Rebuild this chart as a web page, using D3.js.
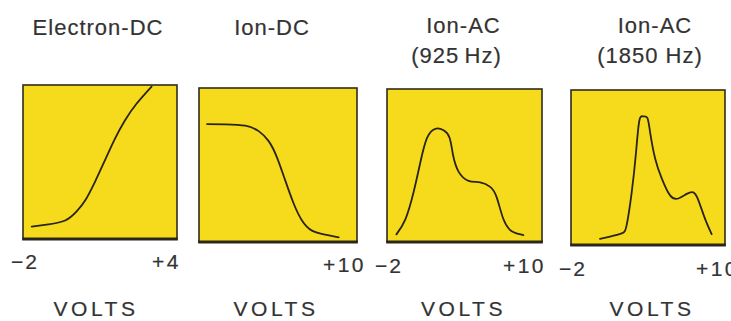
<!DOCTYPE html>
<html>
<head>
<meta charset="utf-8">
<script src="https://cdn.jsdelivr.net/npm/d3@7"></script>
<style>
  body { margin: 0; background: #ffffff; }
  svg text { font-family: "Liberation Sans", Arial, sans-serif; fill: #333333; stroke: #333333; stroke-width: 0.2; }
</style>
</head>
<body>
<div id="content"></div>
<script>
// Panel titles (one or two lines each)
var titles = [["Electron-DC"], ["Ion-DC"], ["Ion-AC", "(925\u2009Hz)"], ["Ion-AC", "(1850 Hz)"]];

// Voltage range of each sweep
var xDomains = [[-2, 4], [-2, 10], [-2, 10], [-2, 10]];

// Labels at the ends of each voltage axis
var tickLabels = [["\u22122", "+4"], [null, "+10"], ["\u22122", "+10"], ["\u22122", "+10"]];
var axisLabel = "VOLTS";

// Probe response curves: [volts, relative signal]
var electronDC = [[-1.66, 0.08], [-1.01, 0.095], [-0.36, 0.12], [0.09, 0.18], [0.42, 0.25],
    [0.80, 0.37], [1.19, 0.51], [1.58, 0.65], [1.97, 0.77], [2.43, 0.88], [3.01, 0.99]];
var ionDC = [[-1.39, 0.766], [0.0, 0.764], [1.52, 0.755], [2.53, 0.72], [3.29, 0.655],
    [3.92, 0.55], [4.55, 0.40], [5.19, 0.25], [5.82, 0.14], [6.58, 0.074], [7.59, 0.048], [8.61, 0.03]];
var ionAC925 = [[-1.27, 0.05], [-0.57, 0.15], [0.07, 0.33], [0.58, 0.52], [1.10, 0.68],
    [1.74, 0.74], [2.38, 0.73], [2.85, 0.68], [3.11, 0.57], [3.54, 0.46], [4.31, 0.40],
    [5.21, 0.39], [5.99, 0.36], [6.50, 0.29], [7.01, 0.15], [7.66, 0.07], [8.56, 0.045]];
var ionAC1850 = [[0.26, 0.04], [1.04, 0.054], [1.95, 0.075], [2.34, 0.13], [2.73, 0.34],
    [3.07, 0.60], [3.32, 0.80], [3.63, 0.83], [3.95, 0.82], [4.16, 0.73], [4.55, 0.56],
    [5.07, 0.43], [5.72, 0.32], [6.36, 0.30], [7.02, 0.33], [7.53, 0.34], [7.92, 0.29],
    [8.44, 0.17], [8.96, 0.07]];
var curves = [electronDC, ionDC, ionAC925, ionAC1850];

// Layout of the four boxes (pixels)
var panels = [
    { x: 23,  y: 85, w: 154, h: 154, titleDx: [-2],      voltsDx: -4, tickY: 269, endDx: 4 },
    { x: 199, y: 88, w: 158, h: 154, titleDx: [-6],      voltsDx: -2, tickY: 272, endDx: 9 },
    { x: 387, y: 89, w: 155, h: 153, titleDx: [-1, -8],  voltsDx: -1, tickY: 273, endDx: 4 },
    { x: 571, y: 90, w: 154, h: 155, titleDx: [7, 2],    voltsDx: 4,  tickY: 276, endDx: 14 }
];

var svgWidth = 731;
var svgHeight = 321;

var svg = d3.select("#content").append("svg")
    .attr("width", svgWidth)
    .attr("height", svgHeight);

panels.forEach(function (p, i) {
    var xScale = d3.scaleLinear().domain(xDomains[i]).range([p.x, p.x + p.w]);
    var yScale = d3.scaleLinear().domain([0, 1]).range([p.y + p.h, p.y]);
    var cx = p.x + p.w / 2;

    // Title
    var title = svg.append("text")
        .attr("text-anchor", "middle")
        .attr("font-size", 22)
        .attr("letter-spacing", 1);
    titles[i].forEach(function (line, k) {
        title.append("tspan")
            .attr("x", cx + p.titleDx[k])
            .attr("y", (titles[i].length > 1 ? 33 : 35) + k * 30)
            .text(line);
    });

    // Yellow box
    svg.append("rect")
        .attr("x", p.x)
        .attr("y", p.y)
        .attr("width", p.w)
        .attr("height", p.h)
        .attr("fill", "#f6db1c")
        .attr("stroke", "#2f2b1c")
        .attr("stroke-width", 1.6);

    // Heavier baseline
    svg.append("line")
        .attr("x1", p.x - 0.8)
        .attr("x2", p.x + p.w + 0.8)
        .attr("y1", p.y + p.h)
        .attr("y2", p.y + p.h)
        .attr("stroke", "#2a261a")
        .attr("stroke-width", 3);

    // Curve
    var line = d3.line()
        .x(function (d) { return xScale(d[0]); })
        .y(function (d) { return yScale(d[1]); })
        .curve(d3.curveNatural);

    svg.append("path")
        .datum(curves[i])
        .attr("d", line)
        .attr("fill", "none")
        .attr("stroke", "#2a2418")
        .attr("stroke-width", 1.8)
        .attr("stroke-linecap", "round");

    // Axis end labels
    var dom = xDomains[i];
    if (tickLabels[i][0]) {
        svg.append("text")
            .attr("x", xScale(dom[0]) + 2)
            .attr("y", p.tickY)
            .attr("text-anchor", "middle")
            .attr("font-size", 21)
            .attr("letter-spacing", 2)
            .text(tickLabels[i][0]);
    }
    svg.append("text")
        .attr("x", xScale(dom[1]) + p.endDx)
        .attr("y", p.tickY)
        .attr("text-anchor", "end")
        .attr("font-size", 21)
        .attr("letter-spacing", 2.5)
        .text(tickLabels[i][1]);

    // VOLTS
    svg.append("text")
        .attr("x", cx + p.voltsDx)
        .attr("y", 316)
        .attr("text-anchor", "middle")
        .attr("font-size", 21)
        .attr("letter-spacing", 3.5)
        .text(axisLabel);
});
</script>
</body>
</html>
